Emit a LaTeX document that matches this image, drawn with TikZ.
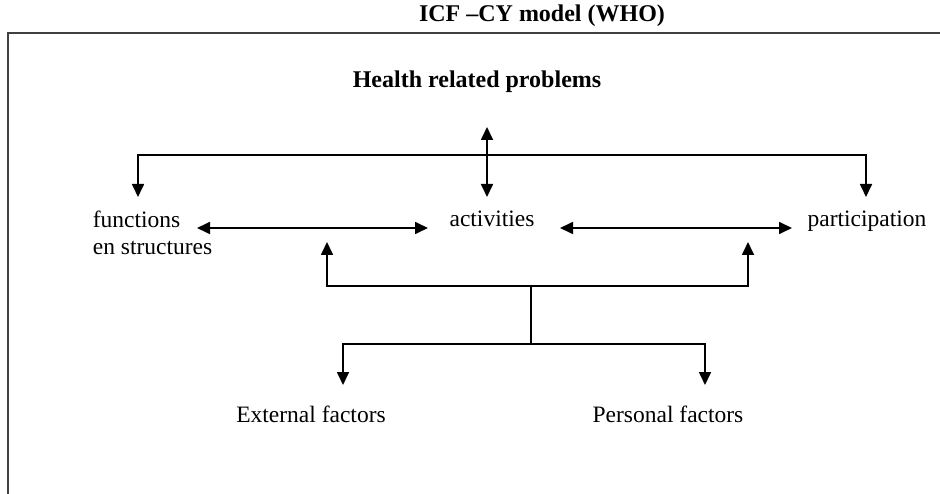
\documentclass[tikz,border=0pt]{standalone}
\usepackage{fontspec}
\setmainfont{Liberation Serif}
\usetikzlibrary{arrows.meta,calc}
\begin{document}
\begin{tikzpicture}[x=1pt,y=-1pt,>={Triangle[length=13pt,width=12pt]},line width=1.7pt,
  lbl/.style={inner sep=0pt,font=\fontsize{23.5}{27}\selectfont},
  ttl/.style={inner sep=0pt,font=\fontsize{24}{28}\selectfont\bfseries}]
\useasboundingbox (0,0) rectangle (940,494);
\node[ttl,anchor=base] (title) at (542,22) {ICF –CY model (WHO)};
\draw[black!75,line width=1.8pt] (8,494) -- (8,33) -- (940,33);

\node[ttl,anchor=base] (health) at (477,88) {Health related problems};
\node[lbl,anchor=north west,align=left] (func) at (92,210) {functions\\en structures};
\node[lbl,anchor=base] (act) at (492,227) {activities};
\node[lbl,anchor=base] (part) at (867,227) {participation};
\node[lbl,anchor=base] (ext) at (311,422) {External factors};
\node[lbl,anchor=base] (pers) at (668,422) {Personal factors};

% top
\draw[<->] ($(health.base)+(10,39)$) -- ($(act.base)+(-5,-30)$);
\draw[<->] ($(func.north west)+(46,-13)$) |- ($(act.base)+(0,-72)$) -| ($(part.base)+(-1,-30)$);
\draw[<->] ($(func.north west)+(105,18)$) -- ($(act.base)+(-64,1)$);
\draw[<->] ($(act.base)+(68,1)$) -- ($(part.base)+(-75,1)$);

% bottom
\draw[<->] ($(act.base)+(-165,15)$) |- ($(act.base)+(39,59)$) coordinate (hub) -| ($(act.base)+(256,15)$);
\draw (hub) -- ++(0,58) coordinate (split);
\draw[<->] ($(ext.base)+(32,-37)$) |- (split) -| ($(pers.base)+(37,-37)$);
\end{tikzpicture}
\end{document}
